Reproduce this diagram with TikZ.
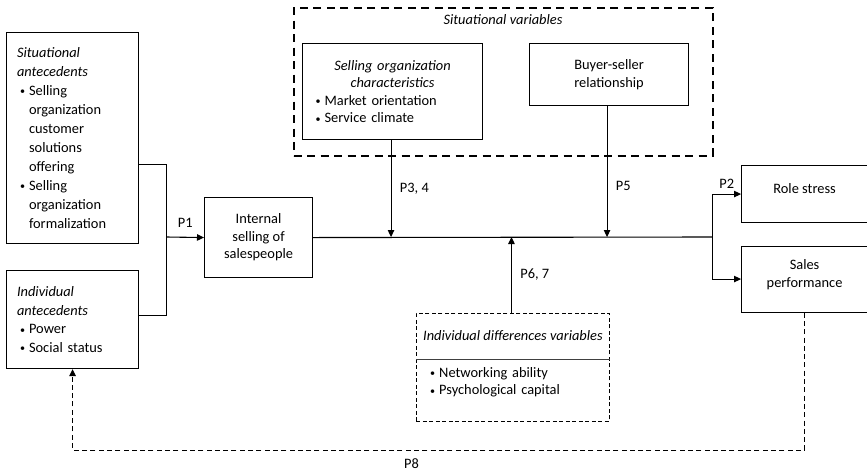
\documentclass[tikz,border=0pt]{standalone}
\usepackage{graphicx}
\usepackage{fontspec}
\setmainfont{Carlito}
\usetikzlibrary{calc, positioning, arrows.meta}

\newcommand{\bul}{\hspace*{3pt}\makebox[9pt][l]{\raisebox{0.6pt}{\scalebox{0.7}{\textbullet}}}}
\newcommand{\ind}{\hspace*{12pt}}
\newcommand{\lowpad}{\rule[-11pt]{0pt}{11pt}}

\begin{document}
\begin{tikzpicture}[x=1pt, y=-1pt,
  font=\fontsize{14.4}{17.5}\selectfont,
  box/.style={draw, line width=1.1pt, inner sep=0pt, anchor=north west},
  thickdash/.style={draw, line width=2pt, dash pattern=on 8pt off 5.5pt, inner sep=0pt, anchor=north west},
  thindash/.style={draw, line width=0.9pt, dash pattern=on 4pt off 2.5pt, inner sep=0pt, anchor=north west},
  conn/.style={line width=1.1pt},
  arr/.style={conn, -{Triangle[length=7pt, width=6.5pt]}},
  fb/.style={arr, line width=0.9pt, dash pattern=on 5pt off 3.3pt}
]
\useasboundingbox (0,0) rectangle (867,475);

% Junctions on the main line
\coordinate (jin) at (166.5,237);
\coordinate (jout) at (712.5,237);
\coordinate (divy) at (0,359);
\coordinate (fby) at (0,450);

% Antecedents
\node[box, minimum width=132pt, minimum height=211pt, text width=111pt, align=left,
  font=\fontsize{14.4}{19}\selectfont] (sitant) at (6,32) {%
  \textit{Situational}\\
  \textit{antecedents}\\
  \bul Selling\\
  \ind organization\\
  \ind customer\\
  \ind solutions\\
  \ind offering\\
  \bul Selling\\
  \ind organization\\
  \ind formalization};
\node[box, minimum width=132pt, minimum height=98pt, text width=111pt, align=left,
  font=\fontsize{14.4}{18.5}\selectfont] (indant) at (6,270) {%
  \textit{Individual}\\
  \textit{antecedents}\\
  \bul Power\\
  \bul Social status};

% Internal selling
\node[box, minimum width=108pt, minimum height=80pt, align=center] (internal) at (204,197)
  {Internal\\selling of\\salespeople};

% Situational variables
\node[thickdash, minimum width=419pt, minimum height=148pt] (sitvar) at (292.5,6.5) {};
\node (sitvartitle) at ($(sitvar.north)+(0,13)$) {\textit{Situational variables}};
\node[box, minimum width=180pt, minimum height=96pt, text width=160pt, align=left] (sellorg) at (302,43) {%
  \makebox[\linewidth]{\textit{Selling organization}}\\
  \makebox[\linewidth]{\textit{characteristics}}\\
  \bul Market orientation\\
  \bul Service climate};
\node[box, minimum width=159pt, minimum height=62pt, align=center] (buyer) at (529,43)
  {Buyer-seller\\relationship};

% Outcomes
\node[box, minimum width=126pt, minimum height=57pt, align=center] (role) at (741,165) {Role stress\lowpad};
\node[box, minimum width=126pt, minimum height=66pt, align=center] (sales) at (741,245.5) {Sales\\performance\lowpad};

% Individual differences
\node[thindash, minimum width=193pt, minimum height=108pt] (inddiff) at (416,313) {};
\node (inddifftitle) at ($(inddiff.north)!0.5!(inddiff.north |- divy)$)
  {\textit{Individual differences variables}};
\draw[line width=0.8pt, black!75] (inddiff.west |- divy) -- (inddiff.east |- divy);
\node[anchor=north west, inner sep=0pt, text width=180pt, align=left] (inddifflist)
  at ($(inddiff.west |- divy)+(11,8)$) {\bul Networking ability\\ \bul Psychological capital};

% Connectors
\draw[conn] ([yshift=-26.5pt]sitant.east) -| (jin);
\draw[conn] ([yshift=4pt]indant.east) -| (jin);
\draw[arr] (jin) -- (internal.west) node[midway, above=6pt] {P1};
\draw[conn] (internal.east) -- (jout);
\draw[arr] (jout) |- (role.west) node[pos=0.75, above=2pt] {P2};
\draw[arr] (jout) |- (sales.west);

\draw[arr] ([xshift=-1.5pt]sellorg.south) -- ([xshift=-1.5pt]sellorg.south |- jin) node[midway, right=5pt] {P3, 4};
\draw[arr] ([xshift=-2pt]buyer.south) -- ([xshift=-2pt]buyer.south |- jin) node[pos=0.61, right=5pt] {P5};
\draw[arr] ([xshift=-1.5pt]inddiff.north) -- ([xshift=-1.5pt]inddiff.north |- jin) node[midway, right=5pt] {P6, 7};

% Feedback
\draw[fb] (sales.south) -- (sales.south |- fby) -- (indant.south |- fby)
  node[pos=0.537, below=5pt] {P8} -- (indant.south);

\end{tikzpicture}
\end{document}
